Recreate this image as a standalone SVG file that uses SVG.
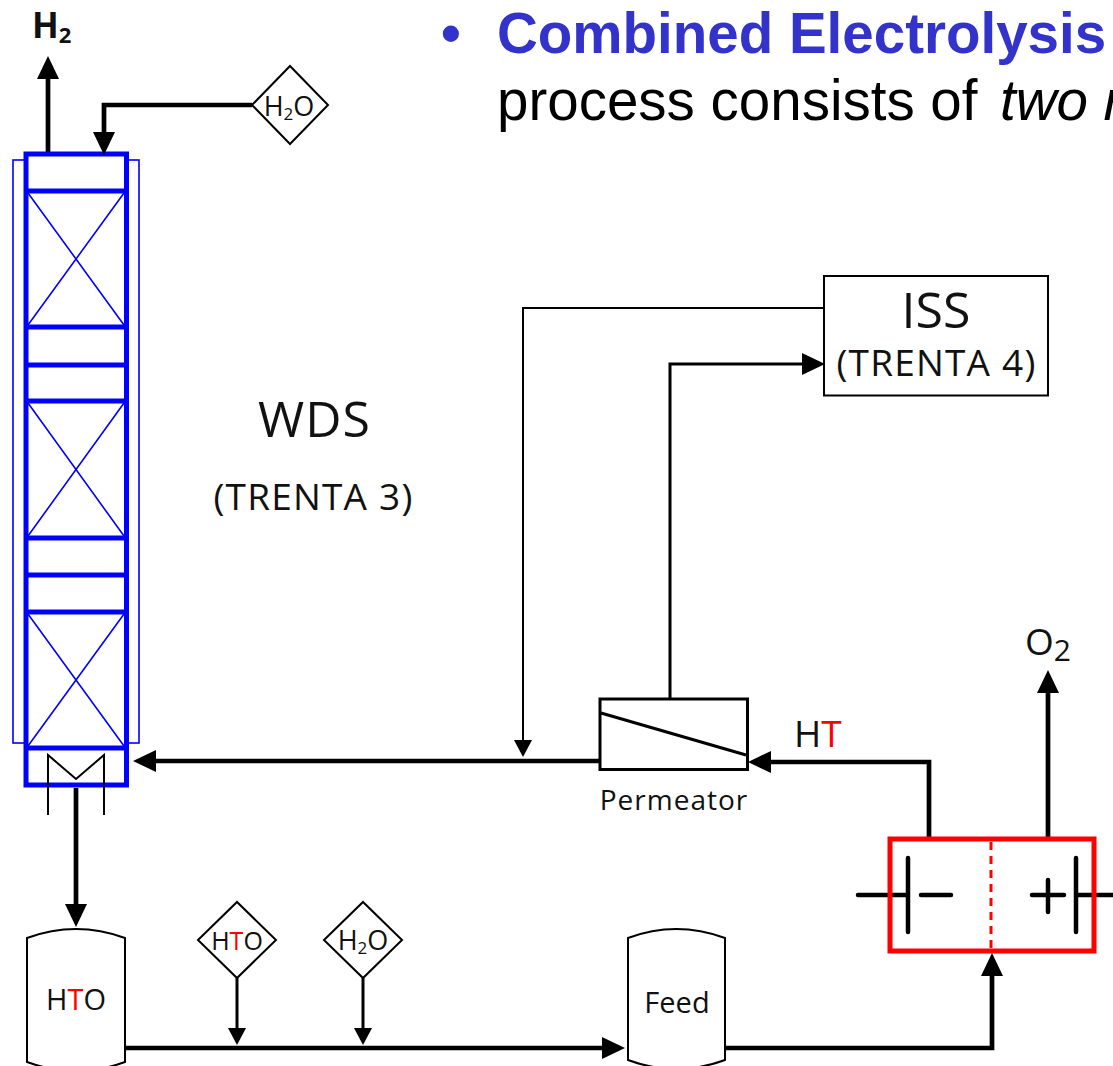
<svg xmlns="http://www.w3.org/2000/svg" width="1113" height="1066" viewBox="0 0 1113 1066">
<style>
text{font-family:"Open Sans","Noto Sans",sans-serif;fill:#111}
.c{text-anchor:middle}
.r{fill:#f00}
.th{fill:none;stroke:#000;stroke-width:4.7}
.md{fill:none;stroke:#000;stroke-width:3}
.tn{fill:none;stroke:#000;stroke-width:2}
.shape{fill:#fff;stroke:#000;stroke-width:2}
.bl{fill:none;stroke:#00f;stroke-width:5}
.bt{fill:none;stroke:#00f;stroke-width:1.6}
.bat{fill:none;stroke:#000;stroke-width:4.5;stroke-linecap:round}
.head{font-family:"Liberation Sans",Arial,sans-serif;font-size:56.5px;fill:#000}
.tr{font-size:37px;letter-spacing:1.2px}
</style>
<defs>
<marker id="big" markerUnits="userSpaceOnUse" markerWidth="24" markerHeight="24" refX="0" refY="11" orient="auto"><path d="M0 0L23 11L0 22Z" fill="#000"/></marker>
<marker id="small" markerUnits="userSpaceOnUse" markerWidth="18" markerHeight="20" refX="0" refY="9" orient="auto"><path d="M0 0L17 9L0 18Z" fill="#000"/></marker>
</defs>

<g id="heading">
<text class="head" x="441" y="53" style="fill:#3333cc;font-weight:700">•</text>
<text class="head" x="497" y="53" style="fill:#3333cc;font-weight:700">Combined Electrolysis</text>
<text class="head" x="497" y="120">process consists of<tspan font-style="italic" x="1000">two m</tspan></text>
</g>

<g id="wds-column">
<rect class="bt" x="13" y="160" width="126" height="583"/>
<rect class="bl" x="26" y="154" width="100.500" height="631" style="fill:#fff"/>
<path class="bl" d="M26 191H126M26 327H126M26 365H126M26 401H126M26 538H126M26 575H126M26 612H126M26 748H126"/>
<path class="bt" d="M28 193L124 325M124 193L28 325M28 403L124 536M124 403L28 536M28 614L124 746M124 614L28 746"/>
<path class="tn" d="M48 815V755L76 779L104 755V815"/>
</g>

<g id="connectors">
<path class="th" d="M48 152V79" marker-end="url(#big)"/>
<path class="th" d="M252 105H104V132" marker-end="url(#big)"/>
<path class="tn" d="M824 308H523V740" marker-end="url(#small)"/>
<path class="md" d="M670 699V364H802" marker-end="url(#big)"/>
<path class="th" d="M600 761H156" marker-end="url(#big)"/>
<path class="th" d="M929 838V762H771" marker-end="url(#big)"/>
<path class="th" d="M1048 838V693" marker-end="url(#big)"/>
<path class="th" d="M76 788V904" marker-end="url(#big)"/>
<path class="th" d="M125 1048H602" marker-end="url(#big)"/>
<path class="md" d="M237 978V1028" marker-end="url(#small)"/>
<path class="md" d="M363 978V1028" marker-end="url(#small)"/>
<path class="th" d="M725 1048H992V976" marker-end="url(#big)"/>
</g>

<g id="wds-label">
<text class="c" x="314.500" y="437" font-size="50" letter-spacing="1">WDS</text>
<text class="c tr" x="313.500" y="510">(TRENTA 3)</text>
</g>
<g id="h2-label"><text x="32" y="38" font-size="35" font-weight="700">H<tspan font-size="22" dy="5">2</tspan></text></g>

<g id="h2o-top">
<path class="shape" d="M252 105L290 66L328 105L290 144Z"/>
<text class="c" x="289" y="116" font-size="27">H<tspan font-size="17" dy="4">2</tspan><tspan dy="-4">O</tspan></text>
</g>

<g id="iss">
<rect class="shape" x="824" y="276" width="224" height="119.500"/>
<text class="c" x="936" y="328" font-size="50">ISS</text>
<text class="c tr" x="936.500" y="376">(TRENTA 4)</text>
</g>

<g id="permeator">
<rect class="shape" x="600" y="699" width="147.500" height="70.500" style="stroke-width:3"/>
<path class="md" d="M601 713L746 755"/>
<text class="c" x="674" y="810" font-size="28" letter-spacing="1">Permeator</text>
</g>

<g id="ht-label"><text x="794" y="747" font-size="37">H<tspan class="r">T</tspan></text></g>
<g id="o2-label"><text x="1025" y="655" font-size="37">O<tspan font-size="30" dy="6">2</tspan></text></g>

<g id="electrolyzer">
<path class="bat" d="M858 895H908M908 858V932M921 895H951M1032 895H1064M1048 880V912M1076 858V932M1076 895H1120"/>
<rect x="890" y="839" width="204" height="112" fill="none" stroke="#f00" stroke-width="5"/>
<path d="M991 842V948" fill="none" stroke="#f00" stroke-width="3" stroke-dasharray="8 6"/>
</g>

<g id="hto-tank">
<path class="shape" d="M27 938Q76 920 125 938V1062Q76 1080 27 1062Z"/>
<text class="c" x="76" y="1010" font-size="29">H<tspan class="r">T</tspan>O</text>
</g>
<g id="feed-tank">
<path class="shape" d="M628 938Q676 920 725 938V1060Q676 1078 628 1060Z"/>
<text class="c" x="677" y="1013" font-size="29">Feed</text>
</g>
<g id="hto-in">
<path class="shape" d="M198 940L237 902L276 940L237 978Z"/>
<text class="c" x="237" y="950" font-size="25">H<tspan class="r">T</tspan>O</text>
</g>
<g id="h2o-in">
<path class="shape" d="M324 940L363 902L402 940L363 978Z"/>
<text class="c" x="363" y="950" font-size="27">H<tspan font-size="17" dy="4">2</tspan><tspan dy="-4">O</tspan></text>
</g>
</svg>
